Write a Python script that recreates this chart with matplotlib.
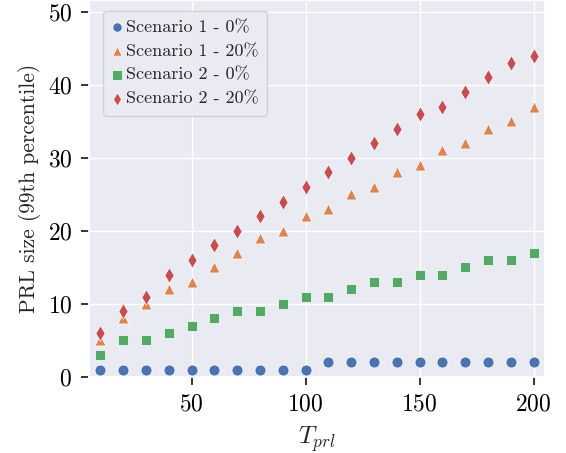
import matplotlib
matplotlib.use("Agg")
import matplotlib.pyplot as plt
import seaborn as sns

t_prl = [10, 20, 30, 40, 50, 60, 70, 80, 90, 100,
         110, 120, 130, 140, 150, 160, 170, 180, 190, 200]
s1_0 = [1, 1, 1, 1, 1, 1, 1, 1, 1, 1, 2, 2, 2, 2, 2, 2, 2, 2, 2, 2]
s1_20 = [5, 8, 10, 12, 13, 15, 17, 19, 20, 22, 23, 25, 26, 28, 29, 31, 32, 34, 35, 37]
s2_0 = [3, 5, 5, 6, 7, 8, 9, 9, 10, 11, 11, 12, 13, 13, 14, 14, 15, 16, 16, 17]
s2_20 = [6, 9, 11, 14, 16, 18, 20, 22, 24, 26, 28, 30, 32, 34, 36, 37, 39, 41, 43, 44]
labels = ["Scenario 1 - 0%", "Scenario 1 - 20%", "Scenario 2 - 0%", "Scenario 2 - 20%"]
xticks = [50, 100, 150, 200]
yticks = [0, 10, 20, 30, 40, 50]

sns.set_theme(style="darkgrid")
plt.rcParams.update({
    "font.family": "serif",
    "font.serif": ["cmr10"],
    "mathtext.fontset": "cm",
    "axes.formatter.use_mathtext": True,
    "xtick.bottom": True,
    "ytick.left": True,
    "xtick.major.size": 6,
    "ytick.major.size": 6,
    "xtick.major.width": 1.1,
    "ytick.major.width": 1.1,
    "xtick.color": "black",
    "ytick.color": "black",
})

fig = plt.figure(figsize=(5.66, 4.53), dpi=100)
ax = fig.add_axes([0.157, 0.168, 0.806, 0.832])

pal = sns.color_palette("deep")
series = [s1_0, s1_20, s2_0, s2_20]
markers = ["o", "^", "s", "d"]
for vals, lab, mk, col in zip(series, labels, markers, [pal[0], pal[1], pal[2], pal[3]]):
    ax.scatter(t_prl, vals, s=62, marker=mk, color=col, edgecolor="white",
               linewidth=0.5, label=lab, zorder=3)

ax.set_xlim(5, 205)
ax.set_ylim(0, 51.6)
ax.set_xticks(xticks)
ax.set_yticks(yticks)
ax.tick_params(labelsize=17, pad=6)
ax.set_xlabel(r"$T_{prl}$", fontsize=18, labelpad=6)
ax.set_ylabel("PRL size (99th percentile)", fontsize=15.5, labelpad=5)
ax.legend(loc="upper left", fontsize=13, frameon=True, handletextpad=0.25,
          borderpad=0.5, labelspacing=0.45, handlelength=0.5, markerscale=0.85,
          borderaxespad=0.0, bbox_to_anchor=(0.031, 0.972))

fig.savefig("out.png", dpi=100)
